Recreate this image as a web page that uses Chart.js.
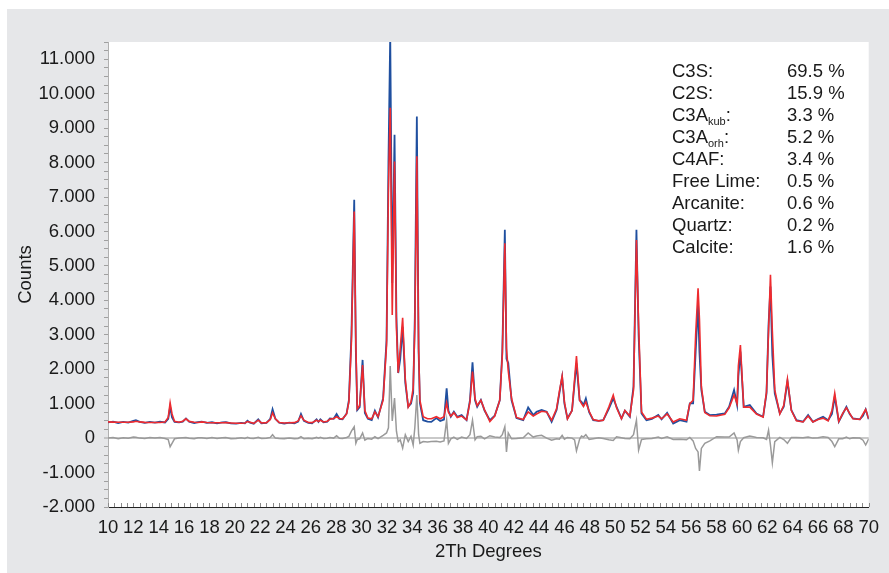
<!DOCTYPE html>
<html>
<head>
<meta charset="utf-8">
<script src="https://cdn.jsdelivr.net/npm/chart.js@4.4.1/dist/chart.umd.min.js"></script>
<style>
  html, body { margin: 0; padding: 0; background: #fff; }
  #wrap { position: absolute; left: 7px; top: 9px; width: 882px; height: 564px; background: #e6e7e9; }
  #phases { position: absolute; left: 665px; top: 51px; font-family: 'Liberation Sans', Arial, sans-serif; font-size: 18.5px; color: #1a1a1a; line-height: 22px; }
  #phases td { padding: 0; white-space: nowrap; }
  #phases sub { font-size: 11px; line-height: 0; vertical-align: -4px; }
</style>
</head>
<body>
<div id="wrap">
  <canvas id="xrdChart"></canvas>
  <table id="phases" cellspacing="0"><tbody></tbody></table>
</div>
<script>
// 2-theta positions and intensities
const twoTheta = [
  10.0, 10.4, 10.8, 11.2, 11.6, 12.0, 12.2, 12.5, 12.9, 13.3, 13.7, 14.1, 14.5, 14.75, 14.9, 15.05, 15.25, 15.6, 15.9, 16.15,
  16.4, 16.8, 17.1, 17.4, 17.8, 18.2, 18.6, 19.0, 19.3, 19.7, 20.1, 20.5, 20.8, 21.0, 21.2, 21.5, 21.85, 22.1, 22.5, 22.8,
  22.98, 23.2, 23.5, 23.9, 24.3, 24.7, 25.0, 25.22, 25.45, 25.8, 26.1, 26.45, 26.6, 26.75, 27.0, 27.3, 27.5, 27.8, 28.03, 28.25,
  28.5, 28.82, 29.0, 29.2, 29.42, 29.55, 29.66, 29.85, 30.08, 30.26, 30.5, 30.8, 31.05, 31.3, 31.7, 31.97, 32.12, 32.26, 32.42, 32.6,
  32.75, 32.89, 33.05, 33.24, 33.45, 33.68, 33.9, 34.07, 34.2, 34.36, 34.5, 34.6, 34.86, 35.2, 35.5, 35.9, 36.2, 36.5, 36.71, 36.85,
  37.04, 37.28, 37.55, 37.89, 38.28, 38.55, 38.75, 38.95, 39.12, 39.41, 39.7, 40.12, 40.5, 40.9, 41.1, 41.3, 41.43, 41.57, 41.83, 42.22,
  42.75, 43.14, 43.54, 43.8, 44.2, 44.6, 44.99, 45.38, 45.6, 45.82, 46.0, 46.24, 46.6, 46.8, 46.95, 47.2, 47.35, 47.5, 47.69, 47.95,
  48.27, 48.7, 49.06, 49.5, 49.85, 50.11, 50.5, 50.77, 51.16, 51.45, 51.68, 51.85, 52.08, 52.47, 52.9, 53.4, 53.66, 54.1, 54.58, 55.1,
  55.63, 55.89, 56.15, 56.35, 56.54, 56.65, 56.8, 57.07, 57.47, 58.0, 58.65, 58.99, 59.38, 59.62, 59.72, 59.88, 60.14, 60.62, 61.15, 61.67,
  61.94, 62.1, 62.25, 62.4, 62.59, 62.99, 63.3, 63.59, 63.9, 64.3, 64.82, 65.22, 65.6, 66.0, 66.4, 66.8, 67.1, 67.32, 67.64, 67.95,
  68.24, 68.5, 68.76, 69.3, 69.55, 69.76, 70.0
];

const measured = [
  455, 480, 440, 470, 450, 500, 520, 470, 445, 470, 450, 475, 455, 560, 910, 600, 470, 455, 480, 570,
  480, 440, 465, 480, 445, 460, 430, 455, 460, 425, 420, 440, 430, 505, 450, 420, 545, 430, 440, 560,
  835, 560, 445, 420, 450, 430, 480, 700, 500, 445, 430, 545, 470, 545, 460, 480, 570, 560, 700, 560,
  545, 715, 1100, 3000, 6920, 2500, 815, 900, 2270, 730, 560, 520, 795, 600, 1160, 2850, 8000, 11700, 4500, 8810,
  3500, 1890, 2300, 3230, 1600, 910, 1000, 1310, 3500, 9340, 2500, 1020, 520, 480, 470, 580, 500, 540, 1445, 800,
  620, 765, 620, 670, 520, 1100, 2200, 1100, 910, 1105, 800, 520, 650, 1100, 2500, 6050, 2300, 2180, 1100, 580,
  520, 890, 670, 765, 815, 765, 475, 815, 1300, 1780, 1000, 570, 800, 1600, 2170, 1100, 1055, 950, 1150, 750,
  520, 500, 520, 850, 1150, 910, 570, 795, 620, 1500, 6050, 3000, 715, 520, 560, 670, 545, 735, 425, 520,
  475, 1010, 1010, 2500, 3900, 2500, 1400, 765, 670, 680, 715, 910, 1400, 960, 1800, 2510, 910, 960, 715, 620,
  1300, 3300, 4400, 2400, 1300, 715, 910, 1650, 815, 520, 475, 670, 475, 550, 620, 520, 700, 1200, 475, 700,
  910, 700, 570, 545, 650, 835, 545
];

const calculated = [
  470, 465, 462, 460, 460, 470, 490, 470, 458, 455, 452, 455, 470, 600, 1025, 700, 485, 462, 490, 560,
  485, 460, 455, 470, 455, 448, 445, 445, 450, 440, 432, 430, 440, 480, 460, 430, 520, 440, 450, 540,
  735, 560, 455, 440, 445, 450, 500, 650, 520, 455, 450, 520, 480, 520, 470, 490, 550, 570, 620, 570,
  560, 700, 1050, 2800, 6580, 2700, 850, 950, 2120, 800, 580, 560, 760, 620, 1100, 2700, 7200, 9590, 3575, 8030,
  3200, 1900, 2600, 3490, 1700, 900, 1050, 1450, 3200, 8180, 2600, 1100, 620, 560, 560, 620, 560, 620, 1020, 750,
  640, 740, 600, 640, 530, 1050, 1930, 1150, 940, 1100, 820, 480, 640, 1100, 2400, 5660, 2600, 1950, 1150, 600,
  540, 760, 640, 700, 780, 760, 520, 850, 1350, 1800, 1050, 560, 800, 1700, 2380, 1100, 1000, 920, 1050, 780,
  540, 500, 520, 900, 1250, 880, 560, 800, 640, 1400, 5750, 3300, 760, 550, 580, 640, 560, 700, 470, 560,
  520, 1000, 1100, 3000, 4350, 3450, 1500, 740, 650, 640, 690, 880, 1250, 1000, 2100, 2700, 900, 900, 700, 610,
  1350, 3100, 4740, 3100, 1400, 700, 950, 1715, 800, 500, 470, 640, 470, 540, 580, 500, 800, 1300, 490, 720,
  880, 720, 560, 540, 700, 830, 560
];

const difference = [
  0, 20, -15, 10, -5, 30, 25, 0, -10, 15, 0, 20, -10, -40, -250, -150, -20, 0, 10, 15,
  -5, -20, 10, 10, -10, 15, -10, 10, 15, -15, -10, 10, -10, 25, -5, -10, 25, -10, -5, 20,
  100, 0, -10, -20, 5, -15, -10, 40, -15, -5, -20, 20, -5, 25, -10, -5, 20, 0, 70, -5,
  -10, 20, 50, 200, 330, -150, -40, -20, 150, -60, -10, -30, 40, -15, 80, 150, 300, 2090, 500, 1160,
  200, -100, -50, -290, 100, -100, 50, -200, 300, 1250, 100, -150, -100, -110, -100, -90, -110, -80, 520, -150,
  -20, 30, -40, 30, -10, 100, 520, -50, 40, 50, -20, 70, 30, 20, 100, 330, -400, 150, -20, -10,
  10, 150, 30, 60, 80, 0, -60, -20, -30, 80, -30, 20, 0, -50, -370, -30, 60, 30, 100, -40,
  -20, 10, -10, -50, -70, 40, 10, -10, -20, 100, 520, -350, -40, -20, -10, 30, -10, 40, -40, -30,
  -50, 20, -80, -300, -400, -950, -300, -150, -80, 40, 30, 30, 150, -50, -350, -100, 10, 60, 20, 10,
  -40, 230, -200, -720, -100, 20, -40, -150, 20, 20, 10, 30, 0, 10, 40, 20, -100, -250, -20, -20,
  30, -20, 10, 0, -60, -200, -20
];

const phaseNames = ['C3S:', 'C2S:', 'C3A<sub>kub</sub>:', 'C3A<sub>orh</sub>:', 'C4AF:', 'Free Lime:', 'Arcanite:', 'Quartz:', 'Calcite:'];
const phaseShares = ['69.5 %', '15.9 %', '3.3 %', '5.2 %', '3.4 %', '0.5 %', '0.6 %', '0.2 %', '1.6 %'];

const yMin = -2000, yMax = 11500, yStep = 250, yLabelStep = 1000;
const xMin = 10, xMax = 70, xStep = 0.5, xLabelStep = 2;

// phase table
const tbody = document.querySelector('#phases tbody');
phaseNames.forEach((name, i) => {
    tbody.innerHTML += `<tr><td style="width:115px">${name}</td><td>${phaseShares[i]}</td></tr>`;
});

function germanNumber(v) {
    const s = String(Math.abs(Math.round(v))).replace(/\B(?=(\d{3})+(?!\d))/g, '.');
    return (v < 0 ? '-' : '') + s;
}

function isMultiple(v, step) {
    return Math.abs(v / step - Math.round(v / step)) < 1e-6;
}

const toPoints = arr => arr.map((y, i) => ({ x: twoTheta[i], y: y }));

// white plot area, inward ticks on the bottom axis
const plotArea = {
    id: 'plotArea',
    beforeDraw(chart) {
        const { ctx, chartArea: a } = chart;
        ctx.save();
        ctx.fillStyle = '#ffffff';
        ctx.fillRect(a.left, a.top, a.right - a.left, a.bottom - a.top);
        ctx.restore();
    },
    afterDraw(chart) {
        const { ctx, chartArea: a } = chart;
        const xs = chart.scales.x;
        ctx.save();
        ctx.strokeStyle = '#8a8a8a';
        ctx.lineWidth = 1;
        xs.ticks.forEach(t => {
            const px = Math.round(xs.getPixelForValue(t.value)) + 0.5;
            ctx.beginPath();
            ctx.moveTo(px, a.bottom);
            ctx.lineTo(px, a.bottom - 4);
            ctx.stroke();
        });
        ctx.restore();
    }
};

Chart.defaults.font.family = "'Liberation Sans', Arial, sans-serif";
Chart.defaults.font.size = 18.5;
Chart.defaults.color = '#1a1a1a';

const ctx = document.getElementById('xrdChart').getContext('2d');
const myChart = new Chart(ctx, {
    type: 'line',
    data: {
        datasets: [
            { label: 'Difference', data: toPoints(difference), borderColor: '#9a9a9a', borderWidth: 1.5, order: 3 },
            { label: 'Measured', data: toPoints(measured), borderColor: '#1f4f9f', borderWidth: 1.8, order: 2 },
            { label: 'Calculated', data: toPoints(calculated), borderColor: '#ee2b2f', borderWidth: 1.6, order: 1 }
        ]
    },
    options: {
        responsive: true,
        maintainAspectRatio: false,
        animation: false,
        parsing: false,
        elements: { point: { radius: 0 }, line: { tension: 0 } },
        layout: { padding: { top: 33, right: 20, left: 0, bottom: 0 } },
        plugins: { legend: { display: false }, tooltip: { enabled: false } },
        scales: {
            x: {
                type: 'linear',
                min: xMin,
                max: xMax,
                afterFit: s => { s.height = 66; },
                ticks: {
                    stepSize: xStep,
                    autoSkip: false,
                    maxRotation: 0,
                    padding: 10,
                    callback: v => isMultiple(v, xLabelStep) ? String(Math.round(v)) : ''
                },
                grid: { drawOnChartArea: false, drawTicks: false },
                border: { display: true, color: '#222222', width: 1 },
                title: { display: true, text: '2Th Degrees', padding: { top: 0, bottom: 10 } }
            },
            y: {
                min: yMin,
                max: yMax,
                afterFit: s => { s.width = 101; },
                ticks: {
                    stepSize: yStep,
                    autoSkip: false,
                    padding: 9,
                    callback: v => isMultiple(v, yLabelStep) ? germanNumber(v) : ''
                },
                grid: {
                    color: c => (c.tick && c.tick.value === 0) ? '#c9c9c9' : 'rgba(0,0,0,0)',
                    lineWidth: c => (c.tick && c.tick.value === 0) ? 2 : 1,
                    tickColor: '#a0a0a0',
                    tickLength: 4,
                    tickWidth: 1
                },
                border: { display: true, color: '#b0b0b0', width: 1 },
                title: { display: true, text: 'Counts', padding: { top: 8, bottom: 0 } }
            }
        }
    },
    plugins: [plotArea]
});
</script>
</body>
</html>
